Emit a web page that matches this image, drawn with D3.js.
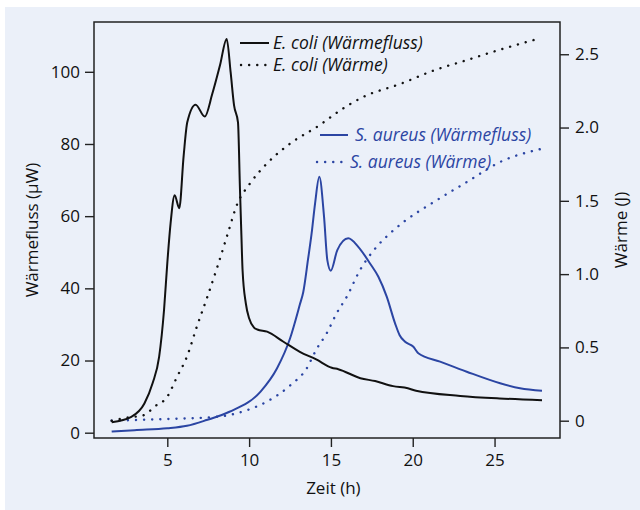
<!DOCTYPE html>
<html>
<head>
<meta charset="utf-8">
<script src="https://cdn.jsdelivr.net/npm/d3@7"></script>
<style>
  html, body { margin: 0; padding: 0; background: #fff; }
  svg { display: block; font-family: 'Open Sans', sans-serif; }
</style>
</head>
<body>
<div id="container"></div>
<script>
// --- Data ---
const ecoliFlowTime = [1.6, 2.8, 3.6, 4.1, 4.5, 4.8, 5.0, 5.2, 5.45, 5.73, 6.0, 6.22, 6.73, 7.29, 7.75, 8.22, 8.63, 8.87, 9.08, 9.32, 9.44, 9.52, 9.6, 9.8, 10.0, 10.3, 10.5, 11.1, 12.1, 13.1, 14.1, 15.05, 15.45, 16.8, 17.7, 18.8, 19.7, 20.2, 22.9, 25.3, 27.9];
const ecoliFlow = [2.9, 4.4, 8.1, 13.7, 21, 34, 47, 58, 65.8, 62.2, 76.8, 86, 90.9, 87.6, 93.9, 101.8, 109.1, 99.9, 90.7, 86, 67.6, 56, 45, 35.8, 31.7, 29.1, 28.6, 28, 25.2, 22.4, 20.3, 18, 17.6, 15.1, 14.3, 12.9, 12.3, 11.6, 10.2, 9.5, 9.0];

const ecoliHeatTime = [1.6, 2.5, 3.6, 4.2, 5.0, 5.6, 6.2, 6.8, 7.45, 8.06, 8.67, 9.28, 10.0, 11.1, 12.5, 14.3, 15.6, 17.0, 19.3, 21.3, 23.3, 25.3, 27.8];
const ecoliHeat = [0, 0.02, 0.039, 0.095, 0.164, 0.30, 0.437, 0.64, 0.846, 1.05, 1.267, 1.48, 1.61, 1.756, 1.89, 2.016, 2.12, 2.21, 2.30, 2.39, 2.46, 2.53, 2.61];

const aureusFlowTime = [1.6, 3.0, 5.0, 6.2, 7.4, 8.8, 10.7, 11.7, 12.5, 13.1, 13.31, 13.6, 13.82, 14.03, 14.29, 14.58, 14.78, 14.99, 15.39, 16.06, 16.67, 17.39, 17.9, 18.41, 18.92, 19.2, 19.53, 20.04, 20.34, 21.67, 23.3, 25.34, 26.56, 27.9];
const aureusFlow = [0.3, 0.7, 1.2, 1.9, 3.5, 5.8, 11.4, 17.8, 26.1, 35.5, 39, 48, 55.2, 63.5, 70.9, 59.8, 47.8, 44.9, 50.6, 53.85, 51.5, 46.9, 43.2, 37.7, 30.3, 27, 25.2, 23.8, 22, 19.7, 16.9, 13.7, 12.3, 11.6];

const aureusHeatTime = [1.6, 4.6, 8.06, 9.9, 11.08, 12.5, 13.52, 14.13, 14.74, 15.35, 15.97, 16.78, 17.8, 18.61, 19.43, 21.26, 23.3, 25.34, 27.88];
const aureusHeat = [0, 0.01, 0.027, 0.073, 0.13, 0.24, 0.357, 0.49, 0.596, 0.733, 0.846, 1.028, 1.187, 1.278, 1.355, 1.49, 1.628, 1.765, 1.855];

const xTicks = [5, 10, 15, 20, 25];
const yLeftTicks = [0, 20, 40, 60, 80, 100];
const yRightTicks = [0, 0.5, 1.0, 1.5, 2.0, 2.5];

const BLACK = '#111';
const BLUE = '#2b45a3';

const width = 640;
const height = 510;
const margin = { top: 22, right: 80, bottom: 72, left: 94 };

const svg = d3.select('#container').append('svg')
  .attr('width', width)
  .attr('height', height);

// panel background
svg.append('rect')
  .attr('x', 5).attr('y', 7)
  .attr('width', width - 5).attr('height', height - 7)
  .attr('fill', '#ebf0f9');

const x = d3.scaleLinear().domain([0.52, 29.0]).range([margin.left, width - margin.right]);
const yL = d3.scaleLinear().domain([-1.47, 113.8]).range([height - margin.bottom, margin.top]);
const yR = d3.scaleLinear().domain([-0.118, 2.72]).range([height - margin.bottom, margin.top]);

// --- Axes ---
const fontSize = '17px';
const legendSize = '17.5px';

const xAxis = svg.append('g')
  .attr('transform', `translate(0,${height - margin.bottom})`)
  .call(d3.axisBottom(x).tickValues(xTicks).tickSize(9).tickPadding(7).tickFormat(d3.format('d')));

const leftAxis = svg.append('g')
  .attr('transform', `translate(${margin.left},0)`)
  .call(d3.axisLeft(yL).tickValues(yLeftTicks).tickSize(9).tickPadding(5).tickFormat(d3.format('d')));

const rightAxis = svg.append('g')
  .attr('transform', `translate(${width - margin.right},0)`)
  .call(d3.axisRight(yR).tickValues(yRightTicks).tickSize(9).tickPadding(6)
    .tickFormat((d) => (d === 0 ? '0' : d3.format('.1f')(d))));

[xAxis, leftAxis, rightAxis].forEach((a) => {
  a.select('.domain').remove();
  a.selectAll('line').attr('stroke', '#222').attr('stroke-width', 1.4);
  a.selectAll('text').attr('fill', '#111').style('font-size', fontSize).style('font-family', "'Open Sans', sans-serif");
});

// plot frame
svg.append('rect')
  .attr('x', margin.left).attr('y', margin.top)
  .attr('width', width - margin.left - margin.right)
  .attr('height', height - margin.top - margin.bottom)
  .attr('fill', 'none')
  .attr('stroke', '#222')
  .attr('stroke-width', 1.5);

// axis titles
svg.append('text')
  .attr('x', x(15.15)).attr('y', 494)
  .attr('text-anchor', 'middle')
  .style('font-size', fontSize)
  .attr('fill', '#111')
  .text('Zeit (h)');

svg.append('text')
  .attr('transform', `translate(38,${(margin.top + height - margin.bottom) / 2}) rotate(-90)`)
  .attr('text-anchor', 'middle')
  .style('font-size', fontSize)
  .attr('fill', '#111')
  .text('Wärmefluss (µW)');

svg.append('text')
  .attr('transform', `translate(627,${(margin.top + height - margin.bottom) / 2}) rotate(-90)`)
  .attr('text-anchor', 'middle')
  .style('font-size', fontSize)
  .attr('fill', '#111')
  .text('Wärme (J)');

// --- Series ---
function drawSeries(times, values, yScale, color, dotted) {
  const pts = times.map((t, i) => [t, values[i]]);
  const line = d3.line()
    .x((d) => x(d[0]))
    .y((d) => yScale(d[1]))
    .curve(d3.curveMonotoneX);
  const path = svg.append('path')
    .datum(pts)
    .attr('d', line)
    .attr('fill', 'none')
    .attr('stroke', color)
    .attr('stroke-linejoin', 'round');
  if (dotted) {
    path.attr('stroke-width', 2.4).attr('stroke-dasharray', '0.1 8').attr('stroke-linecap', 'round');
  } else {
    path.attr('stroke-width', 2);
  }
}

drawSeries(aureusHeatTime, aureusHeat, yR, BLUE, true);
drawSeries(ecoliHeatTime, ecoliHeat, yR, BLACK, true);
drawSeries(aureusFlowTime, aureusFlow, yL, BLUE, false);
drawSeries(ecoliFlowTime, ecoliFlow, yL, BLACK, false);

// --- Legend ---
const legendItems = [
  { label: 'E. coli (Wärmefluss)', color: BLACK, dotted: false, x1: 240, x2: 269, y: 43, tx: 273 },
  { label: 'E. coli (Wärme)', color: BLACK, dotted: true, x1: 241, x2: 269, y: 65, tx: 273 },
  { label: 'S. aureus (Wärmefluss)', color: BLUE, dotted: false, x1: 320, x2: 348, y: 135, tx: 355 },
  { label: 'S. aureus (Wärme)', color: BLUE, dotted: true, x1: 317, x2: 345, y: 162, tx: 350 },
];

const legend = svg.append('g').attr('class', 'legend');
legendItems.forEach((d) => {
  const l = legend.append('line')
    .attr('x1', d.x1).attr('x2', d.x2)
    .attr('y1', d.y).attr('y2', d.y)
    .attr('stroke', d.color);
  if (d.dotted) {
    l.attr('stroke-width', 2.4).attr('stroke-dasharray', '0.1 8').attr('stroke-linecap', 'round');
  } else {
    l.attr('stroke-width', 2);
  }
  legend.append('text')
    .attr('x', d.tx).attr('y', d.y + 6)
    .style('font-size', legendSize)
    .style('font-style', 'italic')
    .attr('fill', d.color)
    .text(d.label);
});
</script>
</body>
</html>
